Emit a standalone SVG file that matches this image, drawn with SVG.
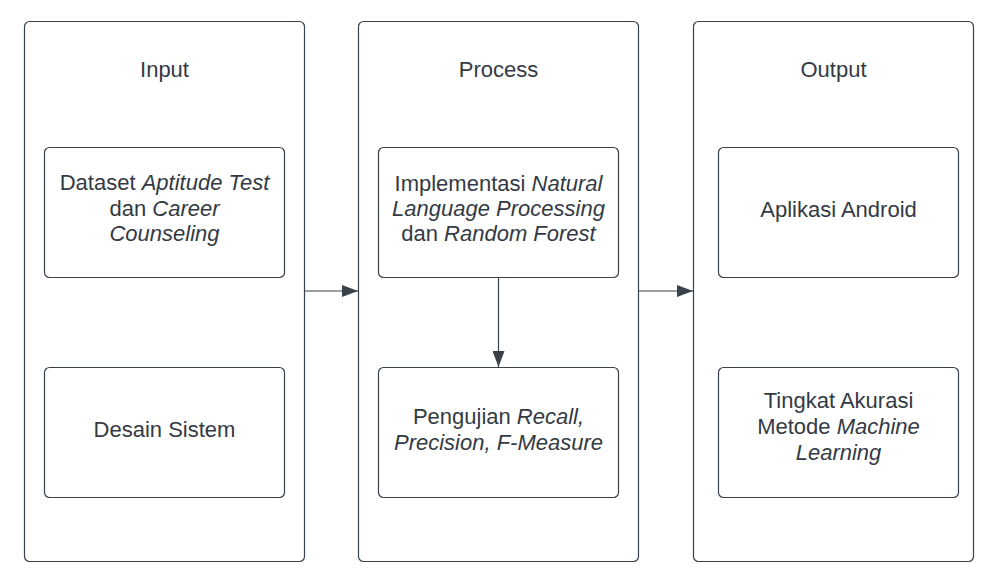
<svg xmlns="http://www.w3.org/2000/svg" width="998" height="583" viewBox="0 0 998 583">
<defs>
<style>
.panel{fill:#fff;stroke:#3a414a;stroke-width:1.2}
.box{fill:#fff;stroke:#3a414a;stroke-width:1.2}
text{font-family:"Liberation Sans",Arial,sans-serif;font-size:22px;fill:#333a44;text-anchor:middle}
.i{font-style:italic}
.conn{stroke:#3a414a;stroke-width:1.2;fill:none}
</style>
<marker id="ah" markerWidth="16" markerHeight="12" refX="16" refY="6" orient="auto" markerUnits="userSpaceOnUse">
<path d="M0,0 L16,6 L0,12 Z" fill="#3a414a"/>
</marker>
</defs>
<rect width="998" height="583" fill="#fff"/>
<g id="panel-input">
<rect class="panel" x="24.5" y="21.5" width="280" height="540" rx="5"/>
<text x="164.5" y="77">Input</text>
</g>
<g id="panel-process">
<rect class="panel" x="358.5" y="21.5" width="280" height="540" rx="5"/>
<text x="498.5" y="77">Process</text>
</g>
<g id="panel-output">
<rect class="panel" x="693.5" y="21.5" width="280" height="540" rx="5"/>
<text x="833.5" y="77">Output</text>
</g>
<g id="dataset">
<rect class="box" x="44.5" y="147.5" width="240" height="130" rx="5"/>
<text x="164.5" y="190">Dataset <tspan class="i">Aptitude Test</tspan></text>
<text x="164.5" y="216">dan <tspan class="i">Career</tspan></text>
<text x="164.5" y="241" class="i">Counseling</text>
</g>
<g id="desain">
<rect class="box" x="44.5" y="367.5" width="240" height="130" rx="5"/>
<text x="164.5" y="437">Desain Sistem</text>
</g>
<g id="implementasi">
<rect class="box" x="378.5" y="147.5" width="240" height="130" rx="5"/>
<text x="498.5" y="191">Implementasi <tspan class="i">Natural</tspan></text>
<text x="498.5" y="216" class="i">Language Processing</text>
<text x="498.5" y="241">dan <tspan class="i">Random Forest</tspan></text>
</g>
<g id="pengujian">
<rect class="box" x="378.5" y="367.5" width="240" height="130" rx="5"/>
<text x="498.5" y="424">Pengujian <tspan class="i">Recall,</tspan></text>
<text x="498.5" y="450" class="i">Precision, F-Measure</text>
</g>
<g id="aplikasi">
<rect class="box" x="718.5" y="147.5" width="240" height="130" rx="5"/>
<text x="838.5" y="217">Aplikasi Android</text>
</g>
<g id="tingkat">
<rect class="box" x="718.5" y="367.5" width="240" height="130" rx="5"/>
<text x="838.5" y="408">Tingkat Akurasi</text>
<text x="838.5" y="434">Metode <tspan class="i">Machine</tspan></text>
<text x="838.5" y="460" class="i">Learning</text>
</g>
<g id="connectors">
<line class="conn" x1="305" y1="291" x2="358" y2="291" marker-end="url(#ah)"/>
<line class="conn" x1="639" y1="291" x2="693" y2="291" marker-end="url(#ah)"/>
<line class="conn" x1="498.5" y1="278" x2="498.5" y2="367" marker-end="url(#ah)"/>
</g>
</svg>
